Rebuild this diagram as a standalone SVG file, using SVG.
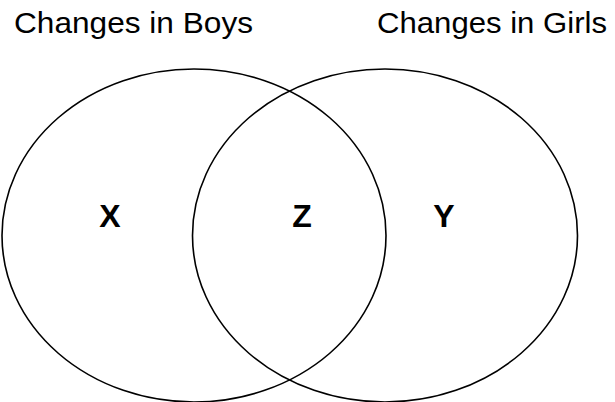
<svg xmlns="http://www.w3.org/2000/svg" width="615" height="402" viewBox="0 0 615 402">
<style>
.c{fill:none;stroke:#000;stroke-width:1.6}
.t{font-family:"Liberation Sans",Arial,sans-serif;font-size:30px;fill:#000}
.l{font-family:"Liberation Sans",Arial,sans-serif;font-size:32px;font-weight:bold;fill:#000;text-anchor:middle}
</style>
<rect width="615" height="402" fill="#fff"/>
<g id="boys">
<ellipse class="c" cx="194" cy="235.5" rx="192" ry="166.5"/>
<text class="t" x="14" y="33" textLength="239" lengthAdjust="spacingAndGlyphs">Changes in Boys</text>
<text class="l" x="110" y="227">X</text>
</g>
<g id="girls">
<ellipse class="c" cx="385" cy="235.5" rx="192.5" ry="166.5"/>
<text class="t" x="377" y="33" textLength="230" lengthAdjust="spacingAndGlyphs">Changes in Girls</text>
<text class="l" x="444" y="227">Y</text>
</g>
<g id="both">
<text class="l" x="302" y="227">Z</text>
</g>
<g id="connectors"></g>
</svg>
